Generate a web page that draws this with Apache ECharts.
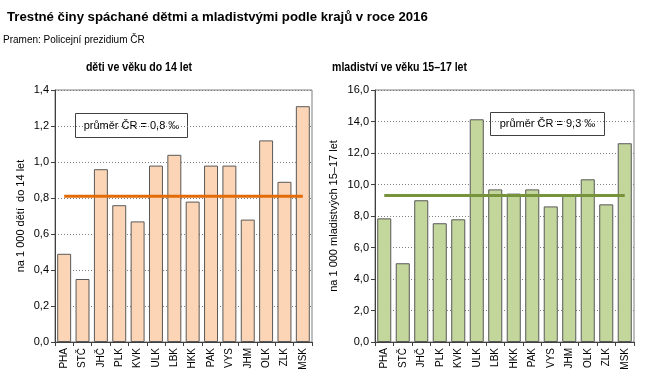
<!DOCTYPE html>
<html><head><meta charset="utf-8">
<script src="https://cdn.jsdelivr.net/npm/echarts@6/dist/echarts.min.js"></script>
<style>html,body{margin:0;padding:0;background:#fff}#c{width:657px;height:389px}</style>
</head><body><div id="c"></div>
<script>
const regions = ['PHA','STČ','JHČ','PLK','KVK','ULK','LBK','HKK','PAK','VYS','JHM','OLK','ZLK','MSK'];
const children = [0.49,0.35,0.96,0.76,0.67,0.98,1.04,0.78,0.98,0.98,0.68,1.12,0.89,1.31];
const childrenAvg = [0.81,0.81,0.81,0.81,0.81,0.81,0.81,0.81,0.81,0.81,0.81,0.81,0.81,0.81];
const juveniles = [7.85,5.0,9.0,7.54,7.79,14.14,9.69,9.42,9.69,8.61,9.35,10.33,8.74,12.62];
const juvenilesAvg = [9.3,9.3,9.3,9.3,9.3,9.3,9.3,9.3,9.3,9.3,9.3,9.3,9.3,9.3];
const leftTicks = {min:0, max:1.4, interval:0.2};
const rightTicks = {min:0, max:16, interval:2};

const F = 'Liberation Sans, Arial, sans-serif';
const chart = echarts.init(document.getElementById('c'), null, {renderer:'canvas'});
const fmt = v => v.toFixed(1).replace('.', ',');
function yAxis(idx, t, name){
  return {gridIndex:idx, type:'value', min:t.min, max:t.max, interval:t.interval,
    name:name, nameLocation:'middle', nameGap: idx===0?29:36, nameRotate:90,
    nameTextStyle:{fontFamily:F, fontSize:11, color:'#000'},
    axisLine:{show:true, lineStyle:{color:'#404040', width:1}},
    axisTick:{show:true, length:4, lineStyle:{color:'#404040'}},
    axisLabel:{fontFamily:F, fontSize:11, color:'#000', margin:6, formatter:fmt},
    splitLine:{show:true, lineStyle:{color:'#7f7f7f', type:[1,2], width:1}}};
}
function xAxis(idx){
  return {gridIndex:idx, type:'category', data:regions,
    axisLine:{show:true, lineStyle:{color:'#404040'}},
    axisTick:{show:true, length:4, lineStyle:{color:'#404040'}},
    axisLabel:{fontFamily:F, fontSize:10, color:'#000', rotate:90, margin:6, interval:0}};
}
chart.setOption({
  animation:false,
  title:[
    {text:'Trestné činy spáchané dětmi a mladistvými podle krajů v roce 2016', left:7, top:11, padding:0,
     textStyle:{fontFamily:F, fontSize:13.2, fontWeight:'bold', color:'#000'}},
    {text:'Pramen: Policejní prezidium ČR', left:3, top:35, padding:0,
     textStyle:{fontFamily:F, fontSize:10, fontWeight:'normal', color:'#000'}}
  ],
  grid:[
    {left:55, right:345, top:90, bottom:47, show:true, borderColor:'#7f7f7f', borderWidth:1},
    {left:375, right:23, top:90, bottom:47, show:true, borderColor:'#7f7f7f', borderWidth:1}
  ],
  xAxis:[xAxis(0), xAxis(1)],
  yAxis:[yAxis(0, leftTicks, 'na 1 000 dětí  do 14 let'), yAxis(1, rightTicks, 'na 1 000 mladistvých 15–17 let')],
  series:[
    {type:'bar', xAxisIndex:0, yAxisIndex:0, data:children, barCategoryGap:'24%',
     itemStyle:{color:'#fbd5b5', borderColor:'#595959', borderWidth:1}},
    {type:'line', xAxisIndex:0, yAxisIndex:0, data:childrenAvg, symbol:'none', z:5,
     lineStyle:{color:'#e36c09', width:3}},
    {type:'bar', xAxisIndex:1, yAxisIndex:1, data:juveniles, barCategoryGap:'24%',
     itemStyle:{color:'#c3d69b', borderColor:'#595959', borderWidth:1}},
    {type:'line', xAxisIndex:1, yAxisIndex:1, data:juvenilesAvg, symbol:'none', z:5,
     lineStyle:{color:'#77933c', width:3}}
  ],
  graphic:[
    {type:'text', x:139, y:68, scaleX:0.88, originX:0, style:{text:'děti ve věku do 14 let', font:'bold 12px '+F, fill:'#000', align:'center', verticalAlign:'middle'}},
    {type:'text', x:399.5, y:68, scaleX:0.88, originX:0, style:{text:'mladiství ve věku 15–17 let', font:'bold 12px '+F, fill:'#000', align:'center', verticalAlign:'middle'}},
    {type:'group', left:75, top:113, z:10, children:[
      {type:'rect', shape:{x:0,y:0,width:112,height:24}, style:{fill:'#fff', stroke:'#404040', lineWidth:1}},
      {type:'text', x:56, y:12, style:{text:'průměr ČR = 0,8 ‰', font:'11px '+F, fill:'#000', align:'center', verticalAlign:'middle'}}
    ]},
    {type:'group', left:490, top:112, z:10, children:[
      {type:'rect', shape:{x:0,y:0,width:114,height:23}, style:{fill:'#fff', stroke:'#404040', lineWidth:1}},
      {type:'text', x:57, y:11.5, style:{text:'průměr ČR = 9,3 ‰', font:'11px '+F, fill:'#000', align:'center', verticalAlign:'middle'}}
    ]}
  ]
});
</script></body></html>
